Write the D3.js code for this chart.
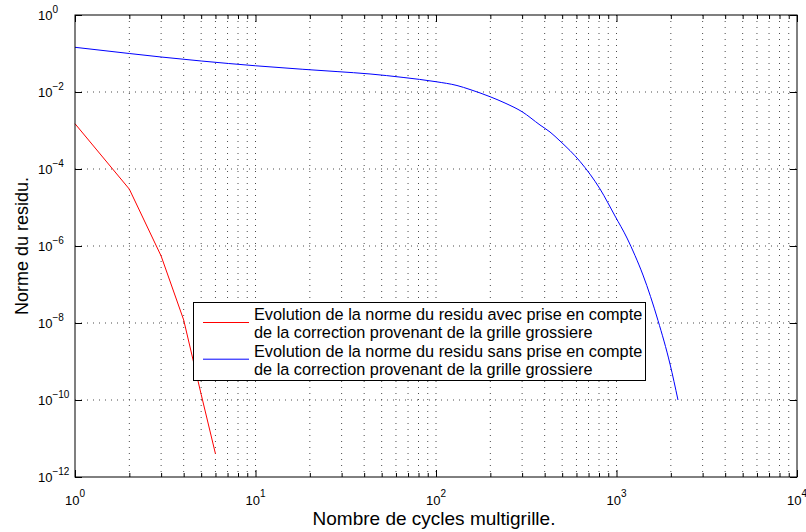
<!DOCTYPE html>
<html>
<head>
<meta charset="utf-8">
<script src="https://cdn.jsdelivr.net/npm/d3@7"></script>
<style>
  html, body { margin: 0; padding: 0; background: #fff; }
  svg { display: block; font-family: "Liberation Sans", Arial, Helvetica, sans-serif; }
</style>
</head>
<body>
<svg id="chart" width="806" height="532"></svg>
<script>
// ---- data ----
const redX = [1, 2, 3, 4, 5, 6];
const redY = [1.5e-3, 3e-5, 5.5e-7, 1.2e-8, 1.4e-10, 4e-12];

const blueX = [1, 2, 3, 5, 10, 18.3, 28.3, 43.1, 65.7, 100, 130.7, 154.3, 199.2, 244.2, 299.6, 376.9, 428.2, 486.4, 627.9, 810.3, 981.1, 1143.5, 1266, 1402, 1698, 1979, 2191];
const blueY = [0.1449, 0.1, 0.0811, 0.0639, 0.048, 0.0389, 0.0339, 0.0294, 0.0239, 0.0185, 0.01475, 0.01161, 7.55e-3, 5.03e-3, 3.08e-3, 1.39e-3, 9.14e-4, 5.34e-4, 1.57e-4, 3.03e-5, 6.02e-6, 1.61e-6, 5.67e-7, 1.76e-7, 1.16e-8, 8.6e-10, 1e-10];

const xMajorExps = [0, 1, 2, 3, 4];
const yMajorExps = [0, -2, -4, -6, -8, -10, -12];
const minorMults = [2, 3, 4, 5, 6, 7, 8, 9];

const xLabel = "Nombre de cycles multigrille.";
const yLabel = "Norme du residu.";
const legendLabels = [
  ["Evolution de la norme du residu avec prise en compte", "de la correction provenant de la grille grossiere"],
  ["Evolution de la norme du residu sans prise en compte", "de la correction provenant de la grille grossiere"]
];
const seriesColors = ["#ff0000", "#0000ff"];

// ---- layout ----
const L = 75, R = 797, T = 15, B = 477;
const svg = d3.select("#chart");

const x = d3.scaleLog().domain([1, 1e4]).range([L, R]);
const y = d3.scaleLog().domain([1e-12, 1]).range([B, T]);

const xMajors = xMajorExps.map(e => Math.pow(10, e));
const xMinors = [];
xMajorExps.slice(0, -1).forEach(e => minorMults.forEach(m => xMinors.push(m * Math.pow(10, e))));
const yMajors = yMajorExps.map(e => Math.pow(10, e));

// grid
const grid = svg.append("g").attr("stroke", "#000").attr("stroke-width", 1)
  .attr("stroke-dasharray", "1,5").attr("opacity", 0.7);
xMajors.concat(xMinors).filter(v => v > 1 && v < 1e4).forEach(v => {
  grid.append("line").attr("x1", x(v)).attr("x2", x(v)).attr("y1", T).attr("y2", B);
});
yMajors.filter(v => v > 1e-12 && v < 1).forEach(v => {
  grid.append("line").attr("x1", L).attr("x2", R).attr("y1", y(v)).attr("y2", y(v));
});

// lines
const redLine = d3.line().x(d => x(d[0])).y(d => y(d[1]));
const blueLine = d3.line().x(d => x(d[0])).y(d => y(d[1])).curve(d3.curveMonotoneX);
svg.append("path").datum(redX.map((v, i) => [v, redY[i]]))
  .attr("d", redLine).attr("fill", "none").attr("stroke", seriesColors[0]).attr("stroke-width", 1);
svg.append("path").datum(blueX.map((v, i) => [v, blueY[i]]))
  .attr("d", blueLine).attr("fill", "none").attr("stroke", seriesColors[1]).attr("stroke-width", 1);

// axes (ticks inward)
function styleAxis(g) {
  g.select(".domain").remove();
  g.selectAll(".tick line").attr("stroke", "#000");
  g.selectAll(".tick text").remove();
}
svg.append("g").attr("transform", `translate(0,${B})`)
  .call(d3.axisBottom(x).tickValues(xMajors).tickSize(-7).tickFormat("")).call(styleAxis);
svg.append("g").attr("transform", `translate(0,${B})`)
  .call(d3.axisBottom(x).tickValues(xMinors).tickSize(-4).tickFormat("")).call(styleAxis);
svg.append("g").attr("transform", `translate(0,${T})`)
  .call(d3.axisTop(x).tickValues(xMajors).tickSize(-7).tickFormat("")).call(styleAxis);
svg.append("g").attr("transform", `translate(0,${T})`)
  .call(d3.axisTop(x).tickValues(xMinors).tickSize(-4).tickFormat("")).call(styleAxis);
svg.append("g").attr("transform", `translate(${L},0)`)
  .call(d3.axisLeft(y).tickValues(yMajors).tickSize(-7).tickFormat("")).call(styleAxis);
svg.append("g").attr("transform", `translate(${R},0)`)
  .call(d3.axisRight(y).tickValues(yMajors).tickSize(-7).tickFormat("")).call(styleAxis);

// box
svg.append("rect").attr("x", L).attr("y", T).attr("width", R - L).attr("height", B - T)
  .attr("fill", "none").attr("stroke", "#000").attr("stroke-width", 1);

// tick labels
const expStr = e => (e < 0 ? "\u2212" + (-e) : String(e));
xMajorExps.forEach(e => {
  const t = svg.append("text").attr("x", x(Math.pow(10, e))).attr("y", 505)
    .attr("text-anchor", "middle").attr("font-size", 13).attr("fill", "#000");
  t.append("tspan").text("10");
  t.append("tspan").attr("dy", -8).attr("font-size", 10).text(expStr(e));
});
yMajorExps.forEach(e => {
  const yy = y(Math.pow(10, e));
  const t = svg.append("text").attr("x", 38).attr("y", yy + 5)
    .attr("text-anchor", "start").attr("font-size", 13).attr("fill", "#000");
  t.append("tspan").text("10");
  t.append("tspan").attr("dy", -7).attr("font-size", 10).text(expStr(e));
});

// axis labels
svg.append("text").attr("x", 434).attr("y", 525).attr("text-anchor", "middle")
  .attr("font-size", 19).text(xLabel);
svg.append("text").attr("transform", `translate(28,${(T + B) / 2}) rotate(-90)`)
  .attr("text-anchor", "middle").attr("font-size", 18).text(yLabel);

// legend
const lg = svg.append("g");
lg.append("rect").attr("x", 193.5).attr("y", 302.5).attr("width", 452).attr("height", 78)
  .attr("fill", "#fff").attr("stroke", "#000").attr("stroke-width", 1);
legendLabels.forEach((lines, i) => {
  const base = 320 + i * 36.7;
  lg.append("line").attr("x1", 203).attr("x2", 249)
    .attr("y1", base + 2.5).attr("y2", base + 2.5)
    .attr("stroke", seriesColors[i]).attr("stroke-width", 1);
  lines.forEach((s, j) => {
    lg.append("text").attr("x", 254).attr("y", base + j * 18.3)
      .attr("font-size", 16.3).attr("fill", "#000").text(s);
  });
});
</script>
</body>
</html>
